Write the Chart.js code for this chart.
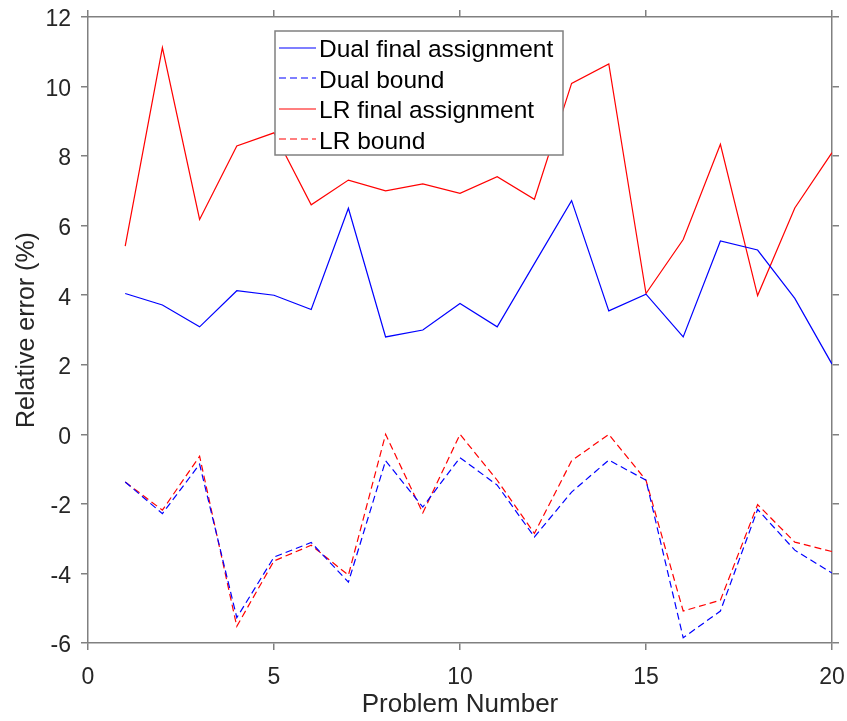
<!DOCTYPE html>
<html>
<head>
<meta charset="utf-8">
<title>Relative error per problem</title>
<script src="https://cdn.jsdelivr.net/npm/chart.js@4/dist/chart.umd.min.js"></script>
<style>
  html, body { margin: 0; padding: 0; background: #ffffff; }
  #wrap { width: 847px; height: 721px; position: relative; }
</style>
</head>
<body>
<div id="wrap"><canvas id="errChart"></canvas></div>
<script>
// -------------------------------------------------------------
// Data: relative error (%) for each test problem
// -------------------------------------------------------------
const problems = [1, 2, 3, 4, 5, 6, 7, 8, 9, 10, 11, 12, 13, 14, 15, 16, 17, 18, 19, 20];

const dualFinal = [4.05, 3.72, 3.09, 4.13, 4.0, 3.59, 6.5, 2.8, 3.0, 3.76,
                   3.09, 4.91, 6.72, 3.55, 4.03, 2.8, 5.56, 5.3, 3.91, 2.02];
const dualBound = [-1.37, -2.28, -0.86, -5.27, -3.53, -3.11, -4.25, -0.76, -2.09, -0.67,
                   -1.46, -2.95, -1.66, -0.74, -1.32, -5.85, -5.08, -2.16, -3.33, -3.99];
const lrFinal   = [5.41, 11.12, 6.18, 8.29, 8.67, 6.6, 7.31, 7.0, 7.2, 6.93,
                   7.41, 6.76, 10.09, 10.65, 4.05, 5.6, 8.34, 3.99, 6.51, 8.1];
const lrBound   = [-1.37, -2.18, -0.63, -5.52, -3.64, -3.19, -4.05, 0, -2.26, 0,
                   -1.32, -2.85, -0.76, 0, -1.32, -5.08, -4.77, -2.02, -3.1, -3.37];

const seriesNames  = ['Dual final assignment', 'Dual bound', 'LR final assignment', 'LR bound'];
const seriesColors = ['#0000ff', '#0000ff', '#ff0000', '#ff0000'];
const seriesDashed = [false, true, false, true];

const xRange = [0, 20];
const yRange = [-6, 12];

const AXIS_GRAY = '#808080';
const TEXT_DARK = '#262626';
const FONT = 'Arial, "Liberation Sans", sans-serif';
const DASH = [7, 4];

function toPoints(values) {
  return values.map((v, i) => ({ x: problems[i], y: v }));
}

// -------------------------------------------------------------
// Boxed legend drawn inside the plot, over the lines
// -------------------------------------------------------------
const boxLegend = {
  id: 'boxLegend',
  afterDatasetsDraw(chart) {
    const c = chart.ctx;
    const left = 275, top = 31, w = 288, h = 124;
    c.save();
    c.fillStyle = '#ffffff';
    c.fillRect(left, top, w, h);
    c.strokeStyle = AXIS_GRAY;
    c.lineWidth = 1.5;
    c.strokeRect(left, top, w, h);

    c.font = '24.5px ' + FONT;
    c.textBaseline = 'alphabetic';
    c.textAlign = 'left';
    seriesNames.forEach((name, i) => {
      const cy = 48.5 + i * 30.6;
      c.beginPath();
      c.setLineDash(seriesDashed[i] ? DASH : []);
      c.strokeStyle = seriesColors[i];
      c.lineWidth = 1.2;
      c.moveTo(279, Math.round(cy) - 1);
      c.lineTo(316, Math.round(cy) - 1);
      c.stroke();
      c.setLineDash([]);
      c.fillStyle = '#000000';
      c.fillText(name, 319, cy + 8.5);
    });
    c.restore();
  }
};

function lineSet(i, values) {
  return {
    label: seriesNames[i],
    data: toPoints(values),
    borderColor: seriesColors[i],
    borderWidth: 1.2,
    borderDash: seriesDashed[i] ? DASH : [],
    pointRadius: 0,
    tension: 0,
    fill: false
  };
}

// shared look for the four box edges (ticks point outward)
function edgeGrid() {
  return { drawOnChartArea: false, color: AXIS_GRAY, tickLength: 7, lineWidth: 1.5 };
}
const edgeBorder = { color: AXIS_GRAY, width: 1.5 };

// keep tick labels from shrinking the plot sideways
function pinHorizontal(h) {
  return (scale) => {
    scale.height = h;
    scale.paddingLeft = 0;
    scale.paddingRight = 0;
  };
}
function pinVertical(w) {
  return (scale) => {
    scale.width = w;
    scale.paddingTop = 0;
    scale.paddingBottom = 0;
  };
}

const ctx = document.getElementById('errChart').getContext('2d');
const errChart = new Chart(ctx, {
  type: 'line',
  data: {
    datasets: [
      lineSet(0, dualFinal),
      lineSet(1, dualBound),
      lineSet(2, lrFinal),
      lineSet(3, lrBound)
    ]
  },
  options: {
    responsive: true,
    maintainAspectRatio: false,
    animation: false,
    layout: { padding: 0 },
    plugins: {
      legend: { display: false },
      tooltip: { enabled: false }
    },
    scales: {
      x: {
        type: 'linear',
        position: 'bottom',
        min: xRange[0],
        max: xRange[1],
        ticks: { stepSize: 5, color: TEXT_DARK, padding: 14, font: { size: 23, family: FONT } },
        grid: edgeGrid(),
        border: edgeBorder,
        title: {
          display: true,
          text: 'Problem Number',
          color: TEXT_DARK,
          font: { size: 26, family: FONT },
          padding: { top: 0, bottom: 1 }
        },
        afterFit: pinHorizontal(78)
      },
      x2: {
        type: 'linear',
        position: 'top',
        min: xRange[0],
        max: xRange[1],
        ticks: { stepSize: 5, display: false },
        grid: edgeGrid(),
        border: edgeBorder,
        afterFit: pinHorizontal(17)
      },
      y: {
        type: 'linear',
        position: 'left',
        min: yRange[0],
        max: yRange[1],
        ticks: { stepSize: 2, color: TEXT_DARK, padding: 10, labelOffset: 3, font: { size: 23, family: FONT } },
        grid: edgeGrid(),
        border: edgeBorder,
        title: {
          display: true,
          text: 'Relative error (%)',
          color: TEXT_DARK,
          font: { size: 25, family: FONT },
          padding: { top: 12, bottom: 0 }
        },
        afterFit: pinVertical(88)
      },
      y2: {
        type: 'linear',
        position: 'right',
        min: yRange[0],
        max: yRange[1],
        ticks: { stepSize: 2, display: false },
        grid: edgeGrid(),
        border: edgeBorder,
        afterFit: pinVertical(15)
      }
    }
  },
  plugins: [boxLegend]
});
</script>
</body>
</html>
